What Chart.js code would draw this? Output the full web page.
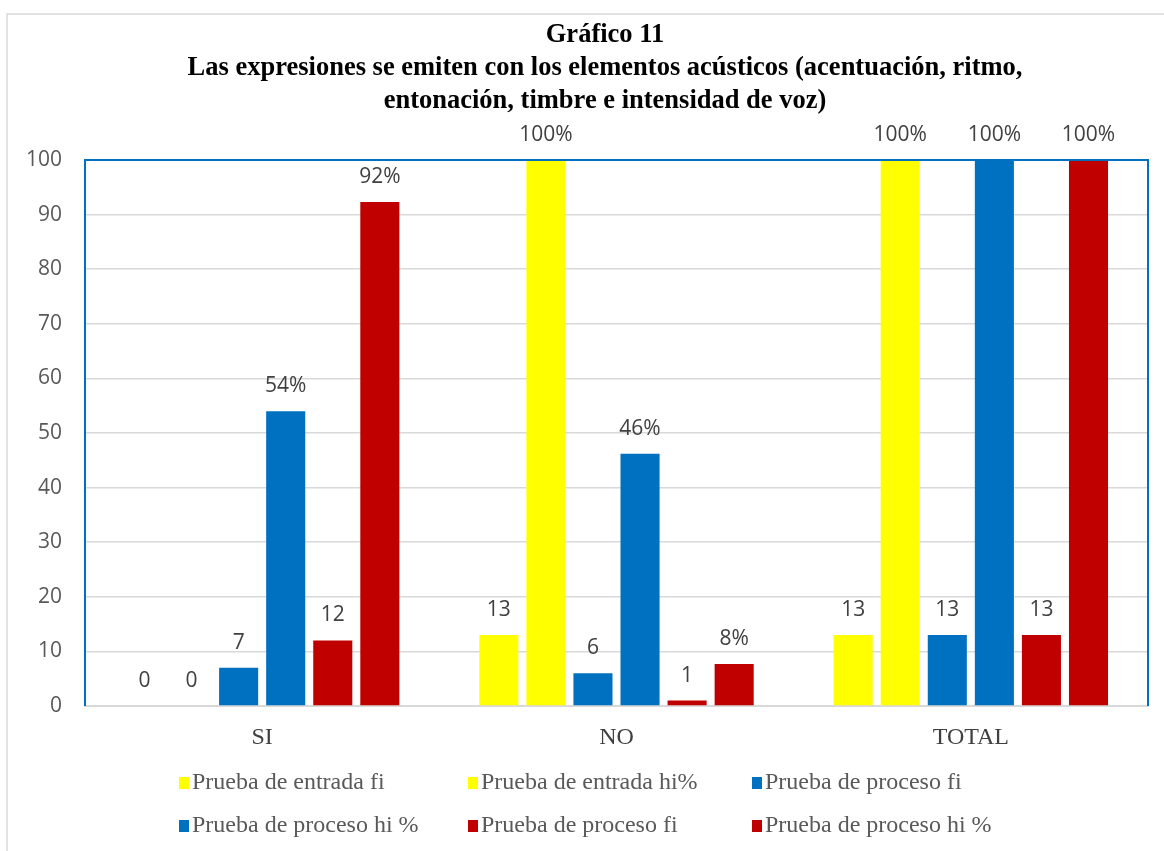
<!DOCTYPE html>
<html>
<head>
<meta charset="utf-8">
<script src="https://cdn.jsdelivr.net/npm/chart.js@4/dist/chart.umd.min.js"></script>
<style>
  html, body { margin: 0; padding: 0; background: #fff; overflow: hidden; }
  #wrap { width: 1164px; height: 851px; position: relative; }
</style>
</head>
<body>
<div id="wrap"><canvas id="grafico"></canvas></div>
<script>
// datos del gráfico
var titulo = ['Gráfico 11',
              'Las expresiones se emiten con los elementos acústicos (acentuación, ritmo,',
              'entonación, timbre e intensidad de voz)'];
var categorias = ['SI', 'NO', 'TOTAL'];
var entradaFi = [0, 13, 13];
var entradaHi = [0, 100, 100];
var procesoFiAzul = [7, 6, 13];
var procesoHiAzul = [54, 46.2, 100];
var procesoFiRojo = [12, 1, 13];
var procesoHiRojo = [92.3, 7.7, 100];
var ticksY = [0, 10, 20, 30, 40, 50, 60, 70, 80, 90, 100];

var AMARILLO = '#FFFF00', AZUL = '#0070C0', ROJO = '#C00000';

function serie(nombre, datos, color, esPorcentaje) {
    return {
        label: nombre,
        data: datos,
        backgroundColor: color,
        borderWidth: 0,
        pct: esPorcentaje
    };
}

// marco gris exterior, título y borde azul del área de trazado
var marco = {
    id: 'marco',
    beforeDraw: function (chart) {
        var c = chart.ctx;
        c.save();
        c.strokeStyle = '#d9d9d9';
        c.lineWidth = 1.5;
        c.strokeRect(7, 14, 1300, 1000);
        c.fillStyle = '#000';
        c.font = 'bold 26.5px "Liberation Serif"';
        c.textAlign = 'center';
        c.textBaseline = 'middle';
        titulo.forEach(function (t, i) { c.fillText(t, 605, 35 + i * 33); });
        c.restore();
    },
    afterDraw: function (chart) {
        var a = chart.chartArea, c = chart.ctx;
        c.save();
        c.strokeStyle = AZUL;
        c.lineWidth = 2;
        c.beginPath();
        c.moveTo(a.left, a.bottom);
        c.lineTo(a.left, a.top);
        c.lineTo(a.right, a.top);
        c.lineTo(a.right, a.bottom);
        c.stroke();
        c.restore();
    }
};

// etiquetas de valor encima de cada barra
var etiquetas = {
    id: 'etiquetas',
    afterDatasetsDraw: function (chart) {
        var c = chart.ctx;
        c.save();
        c.font = '21px "Open Sans"';
        c.fillStyle = '#404040';
        c.textAlign = 'center';
        c.textBaseline = 'middle';
        chart.data.datasets.forEach(function (ds, i) {
            chart.getDatasetMeta(i).data.forEach(function (bar, j) {
                var v = ds.data[j];
                var txt = ds.pct ? (v === 0 ? '0' : Math.round(v) + '%') : String(v);
                c.fillText(txt, bar.x, bar.y - 25);
            });
        });
        c.restore();
    }
};

// leyenda en dos filas de tres columnas, como en Excel
var leyenda = {
    id: 'leyenda',
    afterDraw: function (chart) {
        var c = chart.ctx;
        var cols = [179, 468, 752], filas = [783, 826];
        c.save();
        c.font = '24px "Liberation Serif"';
        c.textBaseline = 'middle';
        c.textAlign = 'left';
        chart.data.datasets.forEach(function (ds, i) {
            var x = cols[i % 3], y = filas[Math.floor(i / 3)];
            c.fillStyle = ds.backgroundColor;
            c.fillRect(x, y - 6, 10, 12);
            c.fillStyle = '#595959';
            c.fillText(ds.label, x + 13, y);
        });
        c.restore();
    }
};

new Chart(document.getElementById('grafico'), {
    type: 'bar',
    data: {
        labels: categorias,
        datasets: [
            serie('Prueba de entrada fi', entradaFi, AMARILLO, false),
            serie('Prueba de entrada hi%', entradaHi, AMARILLO, true),
            serie('Prueba de proceso fi', procesoFiAzul, AZUL, false),
            serie('Prueba de proceso hi %', procesoHiAzul, AZUL, true),
            serie('Prueba de proceso fi', procesoFiRojo, ROJO, false),
            serie('Prueba de proceso hi %', procesoHiRojo, ROJO, true)
        ]
    },
    options: {
        responsive: true,
        maintainAspectRatio: false,
        animation: false,
        layout: { padding: { left: 0, right: 16, top: 160, bottom: 0 } },
        datasets: { bar: { categoryPercentage: 0.797, barPercentage: 0.83 } },
        plugins: {
            legend: { display: false },
            tooltip: { enabled: false },
            title: { display: false }
        },
        scales: {
            x: {
                grid: { display: false, drawTicks: false },
                border: { color: '#d9d9d9', width: 2 },
                ticks: { color: '#404040', padding: 17, font: { family: '"Liberation Serif"', size: 24 } },
                afterFit: function (s) { s.height = 145; }
            },
            y: {
                min: 0,
                max: 100,
                afterBuildTicks: function (s) { s.ticks = ticksY.map(function (v) { return { value: v }; }); },
                grid: { color: '#d9d9d9', lineWidth: 1.5, drawTicks: false },
                border: { display: false },
                ticks: { color: '#595959', padding: 23, font: { family: '"Open Sans"', size: 21 } },
                afterFit: function (s) { s.width = 85; }
            }
        }
    },
    plugins: [marco, etiquetas, leyenda]
});
</script>
</body>
</html>
